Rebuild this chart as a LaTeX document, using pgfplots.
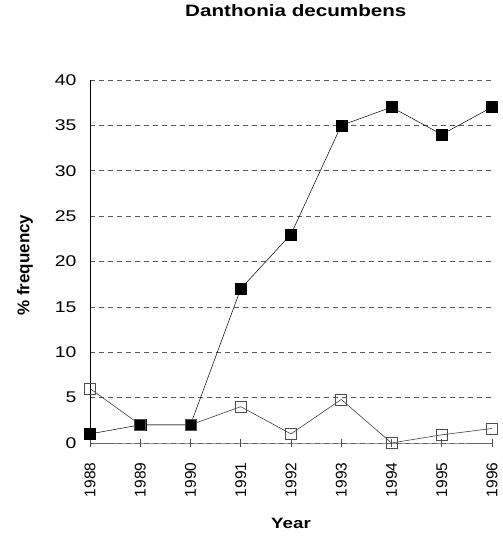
\documentclass[border=0pt]{standalone}
\usepackage{fontspec}
\setmainfont[FakeStretch=1.25]{Liberation Sans}
\newfontfamily\rotfont{Liberation Sans}
\usepackage{pgfplots}
\pgfplotsset{compat=1.18}
\begin{document}
\begin{tikzpicture}
\begin{axis}[name=ax, scale only axis, width=402bp, height=363bp,
  xmin=1988, xmax=1996, ymin=0, ymax=40,
  axis lines=left, axis line style={-},
  x axis line style={draw=none},
  y axis line style={black, line width=0.8bp},
  xtick={1988,1989,1990,1991,1992,1993,1994,1995,1996},
  xticklabels={1988,1989,1990,1991,1992,1993,1994,1995,1996},
  ytick={0,5,...,40},
  ymajorgrids, grid style={black!65, line width=0.5bp, dash pattern=on 5bp off 4bp},
  major tick length=0pt,
  /pgf/number format/assume math mode=true,
  yticklabel style={font=\fontsize{15.5bp}{18bp}\selectfont, xshift=-10bp},
  xticklabel style={font=\rotfont\fontsize{15.5bp}{18bp}\selectfont, rotate=90, anchor=east},
  xticklabel shift=16bp,
  xlabel={\bfseries Year},
  xlabel style={font=\fontsize{15bp}{18bp}\selectfont, at={(axis description cs:0.5,-0.2204)}, anchor=center},
  ylabel={\bfseries \% frequency},
  ylabel style={font=\rotfont\fontsize{17bp}{20bp}\selectfont, at={(axis description cs:-0.162,0.49)}, anchor=center},
  title={\bfseries Danthonia decumbens},
  title style={font=\fontsize{16.5bp}{19bp}\selectfont, at={(axis description cs:0.512,1.176)}, anchor=center},
  clip=false]
\addplot[black!60, line width=0.6bp, mark=|, mark size=4bp, mark options={solid, black!70}]
  coordinates {(1988,0) (1989,0) (1990,0) (1991,0) (1992,0) (1993,0) (1994,0) (1995,0) (1996,0)};
\addplot[black, line width=0.5bp, mark=square*, mark size=5.5bp, mark options={solid, fill=black}]
  coordinates {(1988,1) (1989,2) (1990,2) (1991,17) (1992,23) (1993,35) (1994,37) (1995,34) (1996,37)};
\addplot[black!75, line width=0.6bp, mark=square, mark size=5.5bp, mark options={solid, fill=white, draw=black!70}]
  coordinates {(1988,6) (1989,2) (1990,2) (1991,4) (1992,1) (1993,4.8) (1994,0) (1995,0.9) (1996,1.6)};
\end{axis}
\pgfresetboundingbox
\useasboundingbox ([xshift=-90bp,yshift=-101bp]ax.south west) rectangle ([xshift=10bp,yshift=80bp]ax.north east);
\end{tikzpicture}
\end{document}
